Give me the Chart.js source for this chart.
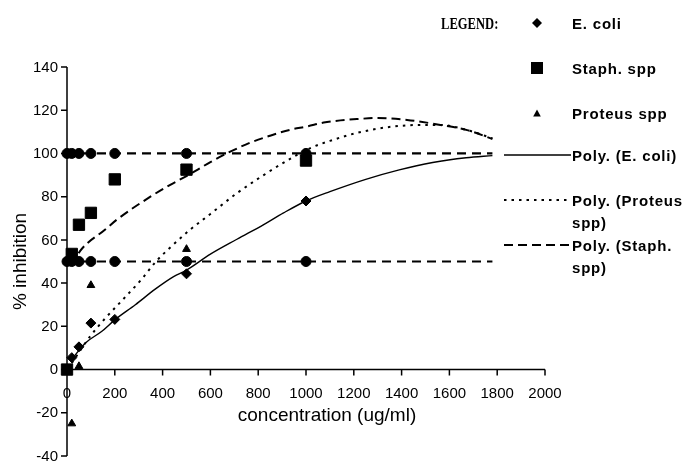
<!DOCTYPE html>
<html><head><meta charset="utf-8">
<script src="https://cdn.jsdelivr.net/npm/chart.js@4"></script>
<style>html,body{margin:0;padding:0;background:#fff}canvas{display:block}</style>
</head><body>
<canvas id="c" width="691" height="465"></canvas>
<script>
// ---- tick labels ----
const xTicks = [0, 200, 400, 600, 800, 1000, 1200, 1400, 1600, 1800, 2000];
const yTicks = [-40, -20, 0, 20, 40, 60, 80, 100, 120, 140];
const xTitle = 'concentration (ug/ml)';
const yTitle = '% inhibition';

// ---- measured points ----
const ecoliConc = [20, 50, 100, 200, 500, 1000];
const ecoliVals = [5.5, 10.5, 21.5, 23.2, 44.3, 78];
const staphConc = [0, 20, 50, 100, 200, 500, 1000];
const staphVals = [0, 53.5, 67, 72.5, 88, 92.5, 96.7];
const proteusConc = [20, 50, 100, 500];
const proteusVals = [-25, 1.5, 39, 55.7];
const refConc = [0, 20, 50, 100, 200, 500, 1000];
const ref100Vals = [100, 100, 100, 100, 100, 100, 100];
const ref50Vals = [50, 50, 50, 50, 50, 50, 50];

// ---- trend lines ----
const ecoliFitConc = [15, 77, 146, 200, 286, 369, 446, 500, 600, 711, 823, 906, 1000, 1100, 1250, 1390, 1530, 1670, 1780];
const ecoliFitVals = [4, 12.3, 17.7, 23, 30, 37.2, 43, 46, 53.4, 60.3, 67.1, 72.5, 78, 82.3, 88, 92.4, 95.8, 98, 99];
const proteusFitConc = [20, 97, 160, 244, 314, 369, 432, 516, 600, 711, 823, 941, 1018, 1100, 1213, 1353, 1492, 1562, 1674, 1780];
const proteusFitVals = [3, 15.4, 23.7, 33.6, 42, 49.6, 56.5, 64.8, 72, 81.6, 90, 98, 102.5, 105.8, 109.5, 112.3, 113.2, 113.2, 110.8, 107];
const staphFitConc = [20, 56, 160, 209, 349, 432, 500, 600, 683, 767, 850, 935, 1004, 1074, 1144, 1213, 1300, 1423, 1562, 1674, 1780];
const staphFitVals = [48, 55, 64.8, 69.4, 80, 85.5, 89.5, 96, 100.8, 105, 108.2, 111, 112.5, 114.3, 115.3, 115.9, 116.4, 115.5, 113.2, 110.8, 106.7];
const refLineConc = [0, 1780];
const refLine100 = [100, 100];
const refLine50 = [50, 50];

const pts = (xs, ys) => xs.map((x, i) => ({x, y: ys[i]}));
const K = '#000';

const markerSet = (label, xs, ys, style, r) => ({
  label, data: pts(xs, ys), showLine: false, pointStyle: style, pointRadius: r,
  pointBackgroundColor: K, pointBorderColor: K, pointBorderWidth: 1, clip: false
});
const lineSet = (label, xs, ys, dash, w) => ({
  label, data: pts(xs, ys), showLine: true, pointRadius: 0, borderColor: K,
  borderWidth: w, borderDash: dash, cubicInterpolationMode: 'monotone', clip: false, fill: false
});

const datasets = [
  lineSet('ref100', refLineConc, refLine100, [9, 6], 2.2),
  lineSet('ref50', refLineConc, refLine50, [9, 6], 2.2),
  markerSet('ref100 pts', refConc, ref100Vals, 'circle', 5),
  markerSet('ref50 pts', refConc, ref50Vals, 'circle', 5),
  lineSet('Poly. (E. coli)', ecoliFitConc, ecoliFitVals, [], 1.4),
  lineSet('Poly. (Proteus spp)', proteusFitConc, proteusFitVals, [2.5, 5], 2),
  lineSet('Poly. (Staph. spp)', staphFitConc, staphFitVals, [9, 5], 2),
  markerSet('E. coli', ecoliConc, ecoliVals, 'rectRot', 5),
  markerSet('Staph. spp', staphConc, staphVals, 'rect', 8),
  markerSet('Proteus spp', proteusConc, proteusVals, 'triangle', 4.5)
];

const axesPlugin = {
  id: 'axesPlugin',
  beforeDatasetsDraw(chart) {
    const {ctx, scales: {x, y}} = chart;
    const x0 = x.getPixelForValue(0), y0 = y.getPixelForValue(0);
    ctx.save();
    ctx.strokeStyle = K; ctx.fillStyle = K; ctx.lineWidth = 1.5;
    ctx.beginPath();
    ctx.moveTo(x0, y.getPixelForValue(yTicks[0]));
    ctx.lineTo(x0, y.getPixelForValue(yTicks[yTicks.length - 1]));
    ctx.moveTo(x.getPixelForValue(xTicks[0]), y0);
    ctx.lineTo(x.getPixelForValue(xTicks[xTicks.length - 1]), y0);
    yTicks.forEach(v => { const py = y.getPixelForValue(v); ctx.moveTo(x0 - 6, py); ctx.lineTo(x0, py); });
    xTicks.forEach(v => { const px = x.getPixelForValue(v); ctx.moveTo(px, y0); ctx.lineTo(px, y0 + 6); });
    ctx.stroke();
    ctx.font = '15px "Liberation Sans", Arial, sans-serif';
    ctx.textAlign = 'right'; ctx.textBaseline = 'middle';
    yTicks.forEach(v => ctx.fillText(String(v), x0 - 9, y.getPixelForValue(v) + 0.5));
    ctx.textAlign = 'center';
    xTicks.forEach(v => ctx.fillText(String(v), x.getPixelForValue(v), y0 + 24));
    ctx.font = '19px "Liberation Sans", Arial, sans-serif';
    ctx.fillText(xTitle, 327, 416);
    ctx.save();
    ctx.translate(21, (y.top + y.bottom) / 2);
    ctx.rotate(-Math.PI / 2);
    ctx.fillText(yTitle, 0, 0);
    ctx.restore();
    ctx.restore();
  }
};

const legendPlugin = {
  id: 'customLegend',
  afterDraw(chart) {
    const ctx = chart.ctx;
    const byLabel = l => chart.data.datasets.find(d => d.label === l);
    ctx.save();
    ctx.fillStyle = K; ctx.strokeStyle = K;
    ctx.textBaseline = 'alphabetic'; ctx.textAlign = 'left';
    ctx.save();
    ctx.translate(441, 29); ctx.scale(0.74, 1);
    ctx.font = 'bold 17px "Liberation Serif", "Times New Roman", serif';
    ctx.fillText('LEGEND:', 0, 0);
    ctx.restore();

    ctx.font = 'bold 15px "Liberation Sans", Arial, sans-serif';
    if ('letterSpacing' in ctx) ctx.letterSpacing = '0.8px';
    const mx = 537, tx = 572;
    // markers
    ctx.beginPath(); ctx.moveTo(mx - 5, 23); ctx.lineTo(mx, 18); ctx.lineTo(mx + 5, 23); ctx.lineTo(mx, 28); ctx.closePath(); ctx.fill();
    ctx.fillRect(mx - 6, 62, 12, 12);
    ctx.beginPath(); ctx.moveTo(mx, 109.5); ctx.lineTo(mx + 3.8, 116.5); ctx.lineTo(mx - 3.8, 116.5); ctx.closePath(); ctx.fill();
    ctx.fillText(byLabel('E. coli').label, tx, 28.5);
    ctx.fillText(byLabel('Staph. spp').label, tx, 74);
    ctx.fillText(byLabel('Proteus spp').label, tx, 118.5);
    // lines
    const sample = (ds, yy) => {
      ctx.save(); ctx.lineWidth = ds.borderWidth; ctx.setLineDash(ds.borderDash);
      ctx.beginPath(); ctx.moveTo(504, yy); ctx.lineTo(571, yy); ctx.stroke(); ctx.restore();
    };
    sample(byLabel('Poly. (E. coli)'), 155);
    sample(byLabel('Poly. (Proteus spp)'), 200);
    sample(byLabel('Poly. (Staph. spp)'), 245);
    ctx.fillText('Poly. (E. coli)', tx, 161);
    ctx.fillText('Poly. (Proteus', tx, 205.5);
    ctx.fillText('spp)', tx, 227.5);
    ctx.fillText('Poly. (Staph.', tx, 250.5);
    ctx.fillText('spp)', tx, 272.5);
    ctx.restore();
  }
};

new Chart(document.getElementById('c'), {
  type: 'scatter',
  data: {datasets},
  options: {
    responsive: false, animation: false, devicePixelRatio: 1,
    layout: {padding: {left: 67, right: 146, top: 67, bottom: 4}},
    plugins: {legend: {display: false}, tooltip: {enabled: false}, title: {display: false}},
    scales: {
      x: {type: 'linear', min: 0, max: 2000, display: false},
      y: {type: 'linear', min: -40, max: 140, display: false}
    }
  },
  plugins: [axesPlugin, legendPlugin]
});
</script>
</body></html>
